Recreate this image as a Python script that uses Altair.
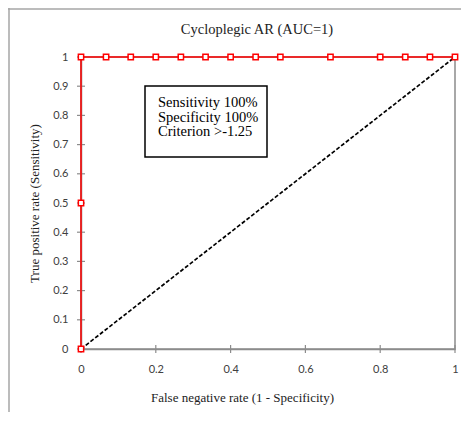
import altair as alt
import pandas as pd

# ROC points (false negative rate / true positive rate)
fpr = [0, 0, 0, 0.067, 0.133, 0.2, 0.267, 0.333, 0.4, 0.467, 0.533, 0.667, 0.8, 0.867, 0.933, 1]
tpr = [0, 0.5, 1, 1, 1, 1, 1, 1, 1, 1, 1, 1, 1, 1, 1, 1]
diag_x = [0, 1]
diag_y = [0, 1]
x_ticks = [0, 0.2, 0.4, 0.6, 0.8, 1]
y_ticks = [0, 0.1, 0.2, 0.3, 0.4, 0.5, 0.6, 0.7, 0.8, 0.9, 1]
note_lines = ["Sensitivity 100%", "Specificity 100%", "Criterion >-1.25"]
title_text = "Cycloplegic AR (AUC=1)"
x_title = "False negative rate (1 - Specificity)"
y_title = "True positive rate (Sensitivity)"

W, H = 374, 292
GRAY = "#8c8c8c"
SERIF = "Liberation Serif"
SANS = "Lato"

roc = pd.DataFrame({"x": fpr, "y": tpr, "i": list(range(len(fpr)))})
diag = pd.DataFrame({"x": diag_x, "y": diag_y})
xt = pd.DataFrame({"x": x_ticks})
yt = pd.DataFrame({"y": y_ticks})
one = pd.DataFrame({"t": [title_text]})

xs = alt.Scale(domain=[0, 1], nice=False, zero=False)
ys = alt.Scale(domain=[0, 1], nice=False, zero=False)

xaxis = alt.Axis(values=x_ticks, format="~g", grid=False, ticks=False, tickSize=0,
                 labelOverlap=False, labelFlush=False,
                 domainColor=GRAY, domainWidth=1.5, labelFont=SANS, labelFontSize=11,
                 labelColor="#404040", labelPadding=14, title=x_title, titleFont=SERIF,
                 titleFontSize=13, titleFontWeight="normal", titleColor="#222222",
                 titleX=161, titleY=48, titleBaseline="middle", titleAnchor="middle")
yaxis = alt.Axis(values=y_ticks, format=".1~f", grid=False, ticks=False, tickSize=0,
                 labelOverlap=False, labelFlush=False,
                 domainColor=GRAY, domainWidth=1.5, labelFont=SANS, labelFontSize=11,
                 labelColor="#404040", labelPadding=13, title=y_title, titleFont=SERIF,
                 titleFontSize=13, titleFontWeight="normal", titleColor="#222222",
                 titleX=-47, titleY=H / 2, titleBaseline="middle", titleAnchor="middle",
                 titleAngle=270)

X = alt.X("x:Q", scale=xs, axis=xaxis, title=x_title)
Y = alt.Y("y:Q", scale=ys, axis=yaxis, title=y_title)

base_axes = alt.Chart(diag).mark_line(strokeDash=[4, 2], color="black", strokeWidth=1.7).encode(
    x=X, y=Y)

xtick = alt.Chart(xt).mark_rule(color=GRAY, strokeWidth=1.2).encode(
    x=X, y=alt.value(H - 4), y2=alt.value(H + 4))
ytick = alt.Chart(yt).mark_rule(color=GRAY, strokeWidth=1.2).encode(
    y=Y, x=alt.value(-4), x2=alt.value(4))

line = alt.Chart(roc).mark_line(color="#ff0000", strokeWidth=1.5).encode(
    x=X, y=Y, order="i:Q")
pts = alt.Chart(roc).mark_point(shape="square", filled=True, fill="white", stroke="#ff0000",
                                strokeWidth=1.5, size=28, opacity=1).encode(x=X, y=Y)

box = alt.Chart(one).mark_rect(fill="white", stroke="black", strokeWidth=1.5).encode(
    x=alt.value(64), x2=alt.value(186), y=alt.value(29), y2=alt.value(100))
note = alt.Chart(one).mark_text(align="left", baseline="middle", font=SERIF,
                                fontSize=14.5, lineHeight=14.5, color="black").encode(
    x=alt.value(77), y=alt.value(46), text=alt.value(note_lines))

title = alt.Chart(one).mark_text(align="center", baseline="middle", font=SERIF,
                                 fontSize=14.5, color="#222222").encode(
    x=alt.value(176), y=alt.value(-27), text="t:N")

frame_left = alt.Chart(one).mark_rule(color="#a6a6a6", strokeWidth=1.5).encode(
    x=alt.value(-72), y=alt.value(-49), y2=alt.value(H + 80))
frame_top = alt.Chart(one).mark_rule(color="#a6a6a6", strokeWidth=1.5).encode(
    y=alt.value(-48), x=alt.value(-73), x2=alt.value(W + 10))

chart = alt.layer(base_axes, xtick, ytick, box, note, title, line, pts, frame_left, frame_top).properties(
    width=W, height=H,
    autosize=alt.AutoSizeParams(type="none"),
    padding={"left": 73, "top": 49, "right": 6, "bottom": 63},
).configure_view(stroke=GRAY, strokeWidth=1.5)

chart.save("out.html", embed_options={"renderer": "svg", "actions": False})
